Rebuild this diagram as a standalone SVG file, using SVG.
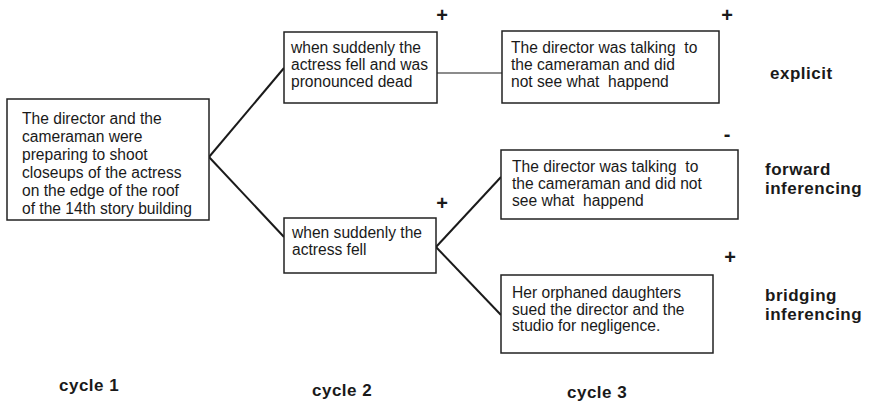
<svg xmlns="http://www.w3.org/2000/svg" width="871" height="407" viewBox="0 0 871 407">
<style>
.box{fill:#fff;stroke:#222;stroke-width:1.5}
.t{font-family:"Liberation Sans",Arial,sans-serif;font-size:15.6px;fill:#1a1a1a;white-space:pre}
.b{font-family:"Liberation Sans",Arial,sans-serif;font-size:17px;font-weight:bold;fill:#1a1a1a;letter-spacing:0.5px}
.s{font-family:"Liberation Sans",Arial,sans-serif;font-size:20px;font-weight:bold;fill:#1a1a1a;text-anchor:middle}
.c{fill:none;stroke:#1a1a1a;stroke-width:2}
</style>
<rect width="871" height="407" fill="#fff"/>
<g id="connectors">
<line class="c" x1="209" y1="157" x2="284" y2="68"/>
<line class="c" x1="209" y1="157" x2="284" y2="237"/>
<line class="c" x1="437" y1="73" x2="502" y2="73" style="stroke-width:1.2"/>
<line class="c" x1="436" y1="247" x2="501" y2="177"/>
<line class="c" x1="436" y1="247" x2="501" y2="315"/>
</g>
<g id="n1">
<rect class="box" x="7" y="99" width="202" height="121"/>
<text class="t" x="22" y="124">The director and the</text>
<text class="t" x="22" y="142">cameraman were</text>
<text class="t" x="22" y="160">preparing to shoot</text>
<text class="t" x="22" y="178">closeups of the actress</text>
<text class="t" x="22" y="196">on the edge of the roof</text>
<text class="t" x="22" y="214">of the 14th story building</text>
</g>
<g id="n2">
<rect class="box" x="284" y="32" width="153" height="71"/>
<text class="t" x="291" y="53">when suddenly the</text>
<text class="t" x="291" y="70">actress fell and was</text>
<text class="t" x="291" y="87">pronounced dead</text>
</g>
<g id="n3">
<rect class="box" x="284" y="218" width="152" height="55"/>
<text class="t" x="292" y="238">when suddenly the</text>
<text class="t" x="292" y="255">actress fell</text>
</g>
<g id="n4">
<rect class="box" x="502" y="31" width="217" height="72"/>
<text class="t" x="511" y="53" xml:space="preserve">The director was talking  to</text>
<text class="t" x="511" y="70">the cameraman and did</text>
<text class="t" x="511" y="87" xml:space="preserve">not see what  happend</text>
</g>
<g id="n5">
<rect class="box" x="501" y="150" width="237" height="69"/>
<text class="t" x="512" y="172" xml:space="preserve">The director was talking  to</text>
<text class="t" x="512" y="189">the cameraman and did not</text>
<text class="t" x="512" y="206" xml:space="preserve">see what  happend</text>
</g>
<g id="n6">
<rect class="box" x="501" y="275" width="212" height="78"/>
<text class="t" x="512" y="298">Her orphaned daughters</text>
<text class="t" x="512" y="315">sued the director and the</text>
<text class="t" x="512" y="331">studio for negligence.</text>
</g>
<g id="signs">
<text class="s" x="442" y="22">+</text>
<text class="s" x="727" y="22">+</text>
<text class="s" x="727" y="141">-</text>
<text class="s" x="442" y="210">+</text>
<text class="s" x="730" y="264">+</text>
</g>
<g id="labels">
<text class="b" x="770" y="79">explicit</text>
<text class="b" x="765" y="175">forward</text>
<text class="b" x="765" y="194">inferencing</text>
<text class="b" x="765" y="301">bridging</text>
<text class="b" x="765" y="320">inferencing</text>
<text class="b" x="59" y="391">cycle 1</text>
<text class="b" x="312" y="396">cycle 2</text>
<text class="b" x="567" y="398">cycle 3</text>
</g>
</svg>
